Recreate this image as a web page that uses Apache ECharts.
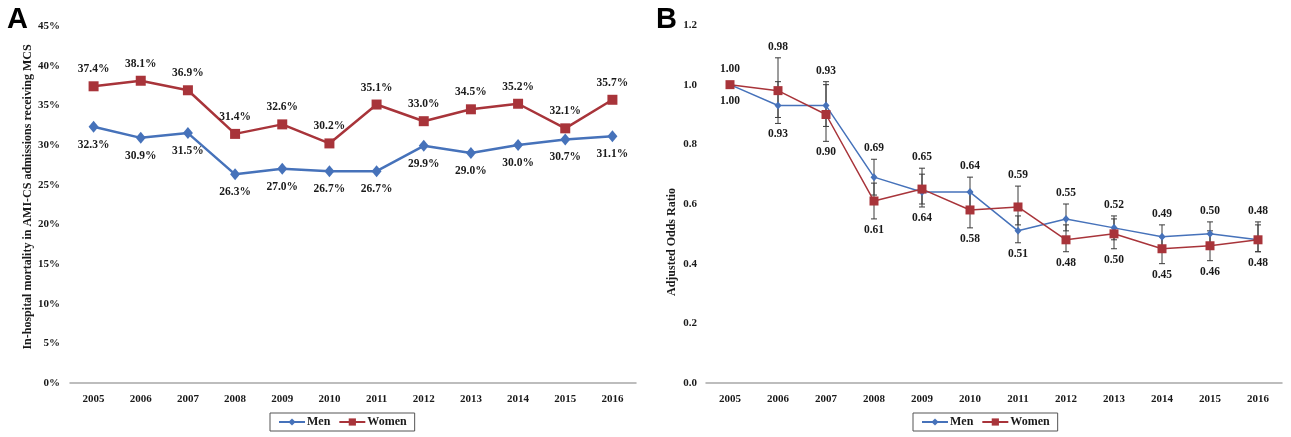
<!DOCTYPE html>
<html>
<head>
<meta charset="utf-8">
<script src="https://cdn.jsdelivr.net/npm/echarts@6/dist/echarts.min.js"></script>
<style>
  html, body { margin: 0; padding: 0; background: #fff; }
  #chart { width: 1291px; height: 437px; }
</style>
</head>
<body>
<div id="chart"></div>
<script>
// Years shared by both panels
const years = ['2005', '2006', '2007', '2008', '2009', '2010', '2011', '2012', '2013', '2014', '2015', '2016'];

// Panel A: in-hospital mortality (%)
const mortalityMen = [32.3, 30.9, 31.5, 26.3, 27.0, 26.7, 26.7, 29.9, 29.0, 30.0, 30.7, 31.1];
const mortalityWomen = [37.4, 38.1, 36.9, 31.4, 32.6, 30.2, 35.1, 33.0, 34.5, 35.2, 32.1, 35.7];

// Panel B: adjusted odds ratios with 95% CI
const orMen = [1.00, 0.93, 0.93, 0.69, 0.64, 0.64, 0.51, 0.55, 0.52, 0.49, 0.50, 0.48];
const orMenLow = [1.00, 0.87, 0.86, 0.63, 0.59, 0.59, 0.47, 0.51, 0.48, 0.45, 0.46, 0.44];
const orMenHigh = [1.00, 1.01, 1.01, 0.75, 0.70, 0.69, 0.56, 0.60, 0.56, 0.53, 0.54, 0.53];
const orWomen = [1.00, 0.98, 0.90, 0.61, 0.65, 0.58, 0.59, 0.48, 0.50, 0.45, 0.46, 0.48];
const orWomenLow = [1.00, 0.89, 0.81, 0.55, 0.60, 0.52, 0.53, 0.44, 0.45, 0.40, 0.41, 0.44];
const orWomenHigh = [1.00, 1.09, 1.00, 0.67, 0.72, 0.64, 0.66, 0.53, 0.55, 0.49, 0.51, 0.54];

const SERIF = '"Liberation Serif", "Times New Roman", serif';
const BLUE = '#4672BA';
const RED = '#A8343A';
const TXT = '#1a1a1a';

const chart = echarts.init(document.getElementById('chart'), null, { renderer: 'canvas' });

function axisX(gridIndex) {
  return {
    type: 'category', gridIndex, data: years, boundaryGap: true,
    axisLine: { show: true, lineStyle: { color: '#a8a8a8', width: 1.5 } },
    axisTick: { show: false },
    axisLabel: { color: TXT, fontFamily: SERIF, fontWeight: 'bold', fontSize: 11, margin: 11 }
  };
}

// Error bars (vertical whisker with caps)
function errorBars(low, high) {
  return function (params, api) {
    const i = params.dataIndex;
    if (low[i] === high[i]) return null;
    const pLow = api.coord([i, low[i]]);
    const pHigh = api.coord([i, high[i]]);
    const x = pLow[0], w = 3;
    const style = { stroke: '#3a3a3a', lineWidth: 1 };
    return {
      type: 'group',
      children: [
        { type: 'line', shape: { x1: x, y1: pHigh[1], x2: x, y2: pLow[1] }, style },
        { type: 'line', shape: { x1: x - w, y1: pHigh[1], x2: x + w, y2: pHigh[1] }, style },
        { type: 'line', shape: { x1: x - w, y1: pLow[1], x2: x + w, y2: pLow[1] }, style }
      ]
    };
  };
}

// Value labels placed beyond the whisker: higher series above, lower series below
function orLabels(vals, other, low, high, winsTie) {
  return function (params, api) {
    const i = params.dataIndex;
    const above = vals[i] > other[i] || (vals[i] === other[i] && winsTie);
    const anchor = above ? high[i] : low[i];
    const p = api.coord([i, anchor]);
    const extra = (low[i] === high[i]) ? 5 : 0;
    const gap = 5 + extra;
    return {
      type: 'text',
      style: {
        text: vals[i].toFixed(2),
        x: p[0],
        y: above ? p[1] - gap : p[1] + gap,
        align: 'center',
        verticalAlign: above ? 'bottom' : 'top',
        fill: TXT,
        font: 'bold 11.5px ' + SERIF
      }
    };
  };
}

const idxData = years.map((y, i) => [i]);

const option = {
  backgroundColor: '#fff',
  animation: false,
  grid: [
    { left: 70, right: 655, top: 26, bottom: 54 },
    { left: 706, right: 9, top: 25, bottom: 54 }
  ],
  xAxis: [axisX(0), axisX(1)],
  yAxis: [
    {
      type: 'value', gridIndex: 0, min: 0, max: 45, interval: 5,
      axisLine: { show: false }, axisTick: { show: false }, splitLine: { show: false },
      axisLabel: { color: TXT, fontFamily: SERIF, fontWeight: 'bold', fontSize: 11, margin: 10, formatter: '{value}%' }
    },
    {
      type: 'value', gridIndex: 1, min: 0, max: 1.2, interval: 0.2,
      axisLine: { show: false }, axisTick: { show: false }, splitLine: { show: false },
      axisLabel: { color: TXT, fontFamily: SERIF, fontWeight: 'bold', fontSize: 11, margin: 9,
        formatter: v => v.toFixed(1) }
    }
  ],
  legend: [
    {
      left: 270, top: 413, data: ['Men', 'Women'],
      borderColor: '#555', borderWidth: 1, padding: [3, 8, 3, 8],
      itemWidth: 26, itemHeight: 9, itemGap: 8,
      textStyle: { color: TXT, fontFamily: SERIF, fontWeight: 'bold', fontSize: 12, padding: [0, 0, 0, -3] }
    },
    {
      left: 913, top: 413, data: ['Men', 'Women'],
      borderColor: '#555', borderWidth: 1, padding: [3, 8, 3, 8],
      itemWidth: 26, itemHeight: 9, itemGap: 8,
      textStyle: { color: TXT, fontFamily: SERIF, fontWeight: 'bold', fontSize: 12, padding: [0, 0, 0, -3] }
    }
  ],
  series: [
    {
      name: 'Men', type: 'line', xAxisIndex: 0, yAxisIndex: 0, data: mortalityMen,
      symbol: 'diamond', symbolSize: [10, 12], color: BLUE,
      lineStyle: { width: 2.5, color: BLUE }, itemStyle: { color: BLUE },
      label: { show: true, position: 'bottom', distance: 6, formatter: p => p.value.toFixed(1) + '%',
        color: TXT, fontFamily: SERIF, fontWeight: 'bold', fontSize: 11.5 },
      z: 3
    },
    {
      name: 'Women', type: 'line', xAxisIndex: 0, yAxisIndex: 0, data: mortalityWomen,
      symbol: 'rect', symbolSize: 10, color: RED,
      lineStyle: { width: 2.5, color: RED }, itemStyle: { color: RED },
      label: { show: true, position: 'top', distance: 6, formatter: p => p.value.toFixed(1) + '%',
        color: TXT, fontFamily: SERIF, fontWeight: 'bold', fontSize: 11.5 },
      z: 4
    },
    {
      type: 'custom', xAxisIndex: 1, yAxisIndex: 1, data: idxData,
      renderItem: errorBars(orMenLow, orMenHigh), z: 1, silent: true
    },
    {
      type: 'custom', xAxisIndex: 1, yAxisIndex: 1, data: idxData,
      renderItem: errorBars(orWomenLow, orWomenHigh), z: 1, silent: true
    },
    {
      name: 'Men', type: 'line', xAxisIndex: 1, yAxisIndex: 1, data: orMen,
      symbol: 'diamond', symbolSize: [7, 8], color: BLUE,
      lineStyle: { width: 1.5, color: BLUE }, itemStyle: { color: BLUE }, z: 3
    },
    {
      name: 'Women', type: 'line', xAxisIndex: 1, yAxisIndex: 1, data: orWomen,
      symbol: 'rect', symbolSize: 9, color: RED,
      lineStyle: { width: 1.5, color: RED }, itemStyle: { color: RED }, z: 4
    },
    {
      type: 'custom', xAxisIndex: 1, yAxisIndex: 1, data: idxData,
      renderItem: orLabels(orMen, orWomen, orMenLow, orMenHigh, false), z: 5, silent: true
    },
    {
      type: 'custom', xAxisIndex: 1, yAxisIndex: 1, data: idxData,
      renderItem: orLabels(orWomen, orMen, orWomenLow, orWomenHigh, true), z: 5, silent: true
    }
  ],
  graphic: [
    { type: 'text', left: 7, top: 5, style: { text: 'A', fill: '#000', font: 'bold 29px "Liberation Sans", Arial, sans-serif' } },
    { type: 'text', left: 656, top: 5, style: { text: 'B', fill: '#000', font: 'bold 29px "Liberation Sans", Arial, sans-serif' } },
    { type: 'text', x: 28, y: 197, rotation: Math.PI / 2,
      style: { text: 'In-hospital mortality in AMI-CS admissions receiving MCS', align: 'center', verticalAlign: 'middle',
        fill: TXT, font: 'bold 12px ' + SERIF } },
    { type: 'text', x: 672, y: 242, rotation: Math.PI / 2,
      style: { text: 'Adjusted Odds Ratio', align: 'center', verticalAlign: 'middle',
        fill: TXT, font: 'bold 12px ' + SERIF } }
  ]
};

chart.setOption(option);
</script>
</body>
</html>
